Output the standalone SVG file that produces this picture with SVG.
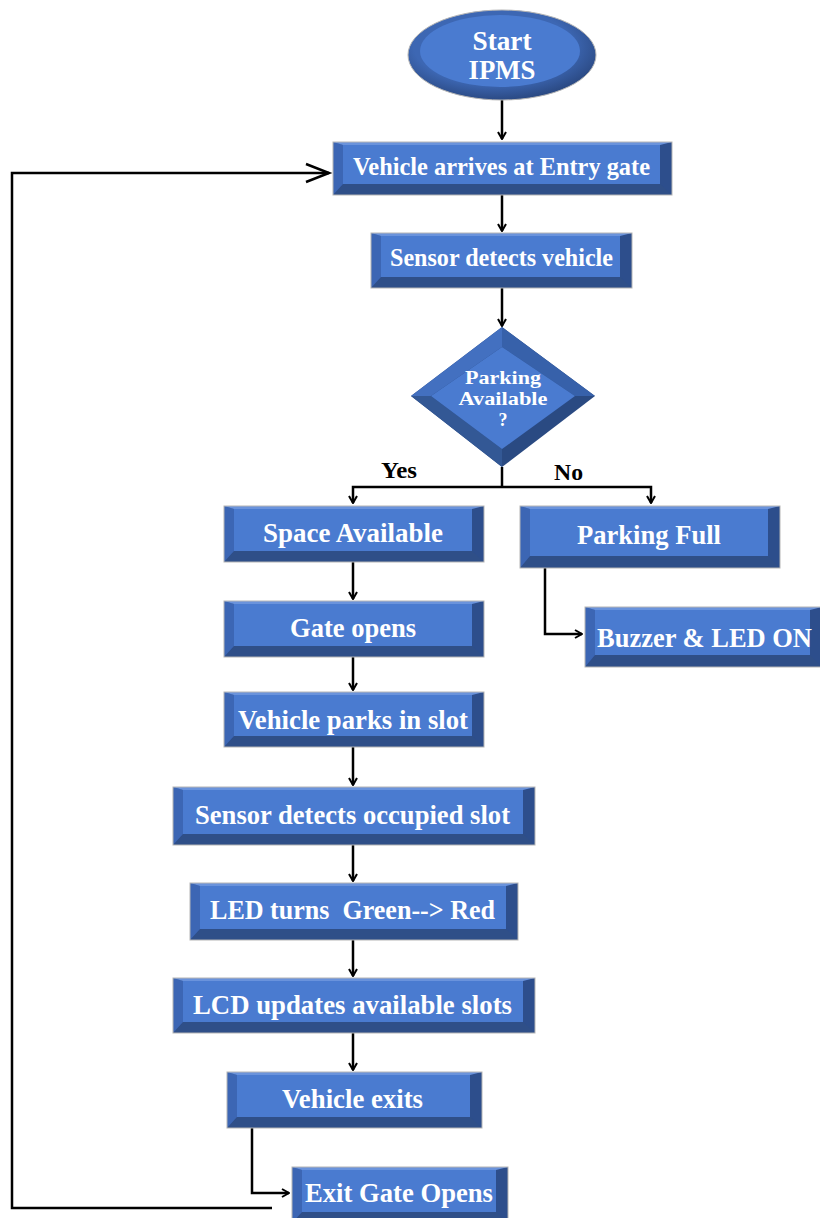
<svg xmlns="http://www.w3.org/2000/svg" width="820" height="1218" viewBox="0 0 820 1218">
<style>
.f{fill:#4A7BD0}.l{fill:#3C66B4}.r{fill:#2D4E8C}.b{fill:#2F4F88}.t{fill:#6A93DC}
.o{fill:none;stroke:#b5b5b5;stroke-width:1}
.n{font-family:"Liberation Serif","Times New Roman",serif;font-weight:bold;fill:#fff;text-anchor:middle}
.lbl{font-family:"Liberation Serif","Times New Roman",serif;font-weight:bold;fill:#000;font-size:24px}
.c{fill:none;stroke:#000;stroke-width:2.5}
</style>
<defs>
<marker id="ah" viewBox="0 0 10 10" refX="9" refY="5" markerWidth="10" markerHeight="10" markerUnits="userSpaceOnUse" orient="auto">
<path d="M2,1 L9,5 L2,9" fill="none" stroke="#000" stroke-width="2"/>
</marker>
<radialGradient id="eg" cx="0.45" cy="0.4" r="0.6">
<stop offset="0.7" stop-color="#3D67B3"/>
<stop offset="1" stop-color="#2B4A84"/>
</radialGradient>
</defs>

<g id="connectors">
<line class="c" x1="502" y1="100" x2="502" y2="139" marker-end="url(#ah)"/>
<line class="c" x1="502" y1="195" x2="502" y2="231" marker-end="url(#ah)"/>
<line class="c" x1="502" y1="288" x2="502" y2="326" marker-end="url(#ah)"/>
<polyline class="c" points="502,467 502,487"/>
<polyline class="c" points="502,487 353,487 353,503" marker-end="url(#ah)"/>
<polyline class="c" points="502,487 651,487 651,503" marker-end="url(#ah)"/>
<polyline class="c" points="545,568 545,634 582,634" marker-end="url(#ah)"/>
<line class="c" x1="353" y1="562" x2="353" y2="599" marker-end="url(#ah)"/>
<line class="c" x1="353" y1="657" x2="353" y2="690" marker-end="url(#ah)"/>
<line class="c" x1="353" y1="747" x2="353" y2="785" marker-end="url(#ah)"/>
<line class="c" x1="353" y1="845" x2="353" y2="881" marker-end="url(#ah)"/>
<line class="c" x1="353" y1="940" x2="353" y2="976" marker-end="url(#ah)"/>
<line class="c" x1="353" y1="1033" x2="353" y2="1070" marker-end="url(#ah)"/>
<polyline class="c" points="252,1128 252,1193 289,1193" marker-end="url(#ah)"/>
<polyline class="c" points="272,1208 12,1208 12,173 329,173"/>
<polyline class="c" points="306,164 329,173 306,182"/>
<text class="lbl" x="381" y="478" textLength="36" lengthAdjust="spacingAndGlyphs">Yes</text>
<text class="lbl" x="554" y="480" textLength="29" lengthAdjust="spacingAndGlyphs">No</text>
</g>

<g id="start">
<ellipse cx="502" cy="55" rx="94" ry="45" fill="url(#eg)" stroke="#b5b5b5" stroke-width="1"/>
<ellipse cx="500" cy="51" rx="80" ry="36" class="f"/>
<text class="n" x="502" y="50" font-size="28" textLength="59" lengthAdjust="spacingAndGlyphs">Start</text>
<text class="n" x="502" y="79" font-size="28" textLength="67" lengthAdjust="spacingAndGlyphs">IPMS</text>
</g>

<g id="n1">
<rect class="r" x="333" y="142" width="339" height="53"/>
<polygon class="b" points="333,195 343,184 660,184 672,195"/>
<polygon class="l" points="333,142 343,145 343,184 333,195"/>
<polygon class="t" points="333,142 672,142 660,145 343,145"/>
<rect class="f" x="343" y="145" width="317" height="39"/>
<rect class="o" x="333" y="142" width="339" height="53"/>
<text class="n" x="501.5" y="175" font-size="26" textLength="297" lengthAdjust="spacingAndGlyphs">Vehicle arrives at Entry gate</text>
</g>

<g id="n2">
<rect class="r" x="371" y="233" width="261" height="55"/>
<polygon class="b" points="371,288 381,277 620,277 632,288"/>
<polygon class="l" points="371,233 381,236 381,277 371,288"/>
<polygon class="t" points="371,233 632,233 620,236 381,236"/>
<rect class="f" x="381" y="236" width="239" height="41"/>
<rect class="o" x="371" y="233" width="261" height="55"/>
<text class="n" x="501.5" y="266" font-size="25" textLength="223" lengthAdjust="spacingAndGlyphs">Sensor detects vehicle</text>
</g>

<g id="decision">
<polygon points="502,327 595,396 502,467 411,396" fill="#2A4A82"/>
<polygon points="411,396 502,327 502,347 431,396" fill="#4370C0"/>
<polygon points="502,327 595,396 575,396 502,347" fill="#3761AA"/>
<polygon points="411,396 431,396 502,449 502,467" fill="#335895"/>
<polygon points="502,347 575,396 502,449 431,396" class="f"/>
<text class="n" x="503" y="384" font-size="18" textLength="76" lengthAdjust="spacingAndGlyphs">Parking</text>
<text class="n" x="503" y="405" font-size="18" textLength="89" lengthAdjust="spacingAndGlyphs">Available</text>
<text class="n" x="503" y="426" font-size="18">?</text>
</g>

<g id="n3">
<rect class="r" x="224" y="506" width="260" height="56"/>
<polygon class="b" points="224,562 234,551 472,551 484,562"/>
<polygon class="l" points="224,506 234,509 234,551 224,562"/>
<polygon class="t" points="224,506 484,506 472,509 234,509"/>
<rect class="f" x="234" y="509" width="238" height="42"/>
<rect class="o" x="224" y="506" width="260" height="56"/>
<text class="n" x="353" y="542" font-size="27" textLength="180" lengthAdjust="spacingAndGlyphs">Space Available</text>
</g>

<g id="n4">
<rect class="r" x="520" y="506" width="260" height="62"/>
<polygon class="b" points="520,568 530,556 768,556 780,568"/>
<polygon class="l" points="520,506 530,509 530,556 520,568"/>
<polygon class="t" points="520,506 780,506 768,509 530,509"/>
<rect class="f" x="530" y="509" width="238" height="47"/>
<rect class="o" x="520" y="506" width="260" height="62"/>
<text class="n" x="649" y="544" font-size="27" textLength="144" lengthAdjust="spacingAndGlyphs">Parking Full</text>
</g>

<g id="n5">
<rect class="r" x="585" y="607" width="237" height="60"/>
<polygon class="b" points="585,667 595,655 810,655 822,667"/>
<polygon class="l" points="585,607 595,610 595,655 585,667"/>
<polygon class="t" points="585,607 822,607 810,610 595,610"/>
<rect class="f" x="595" y="610" width="215" height="45"/>
<rect class="o" x="585" y="607" width="237" height="60"/>
<text class="n" x="704.5" y="647" font-size="27" textLength="215" lengthAdjust="spacingAndGlyphs">Buzzer &amp; LED ON</text>
</g>

<g id="n6">
<rect class="r" x="224" y="601" width="260" height="56"/>
<polygon class="b" points="224,657 234,646 472,646 484,657"/>
<polygon class="l" points="224,601 234,604 234,646 224,657"/>
<polygon class="t" points="224,601 484,601 472,604 234,604"/>
<rect class="f" x="234" y="604" width="238" height="42"/>
<rect class="o" x="224" y="601" width="260" height="56"/>
<text class="n" x="353" y="637" font-size="27" textLength="126" lengthAdjust="spacingAndGlyphs">Gate opens</text>
</g>

<g id="n7">
<rect class="r" x="224" y="692" width="260" height="55"/>
<polygon class="b" points="224,747 234,736 472,736 484,747"/>
<polygon class="l" points="224,692 234,695 234,736 224,747"/>
<polygon class="t" points="224,692 484,692 472,695 234,695"/>
<rect class="f" x="234" y="695" width="238" height="41"/>
<rect class="o" x="224" y="692" width="260" height="55"/>
<text class="n" x="353" y="729" font-size="27" textLength="230" lengthAdjust="spacingAndGlyphs">Vehicle parks in slot</text>
</g>

<g id="n8">
<rect class="r" x="173" y="787" width="362" height="58"/>
<polygon class="b" points="173,845 183,834 523,834 535,845"/>
<polygon class="l" points="173,787 183,790 183,834 173,845"/>
<polygon class="t" points="173,787 535,787 523,790 183,790"/>
<rect class="f" x="183" y="790" width="340" height="44"/>
<rect class="o" x="173" y="787" width="362" height="58"/>
<text class="n" x="352.5" y="824" font-size="27" textLength="315" lengthAdjust="spacingAndGlyphs">Sensor detects occupied slot</text>
</g>

<g id="n9">
<rect class="r" x="190" y="883" width="328" height="57"/>
<polygon class="b" points="190,940 200,929 506,929 518,940"/>
<polygon class="l" points="190,883 200,886 200,929 190,940"/>
<polygon class="t" points="190,883 518,883 506,886 200,886"/>
<rect class="f" x="200" y="886" width="306" height="43"/>
<rect class="o" x="190" y="883" width="328" height="57"/>
<text class="n" x="352.5" y="919" font-size="27" textLength="285" lengthAdjust="spacingAndGlyphs">LED turns &#160;Green--&gt; Red</text>
</g>

<g id="n10">
<rect class="r" x="173" y="978" width="362" height="55"/>
<polygon class="b" points="173,1033 183,1022 523,1022 535,1033"/>
<polygon class="l" points="173,978 183,981 183,1022 173,1033"/>
<polygon class="t" points="173,978 535,978 523,981 183,981"/>
<rect class="f" x="183" y="981" width="340" height="41"/>
<rect class="o" x="173" y="978" width="362" height="55"/>
<text class="n" x="352.5" y="1014" font-size="27" textLength="319" lengthAdjust="spacingAndGlyphs">LCD updates available slots</text>
</g>

<g id="n11">
<rect class="r" x="227" y="1072" width="255" height="56"/>
<polygon class="b" points="227,1128 237,1117 470,1117 482,1128"/>
<polygon class="l" points="227,1072 237,1075 237,1117 227,1128"/>
<polygon class="t" points="227,1072 482,1072 470,1075 237,1075"/>
<rect class="f" x="237" y="1075" width="233" height="42"/>
<rect class="o" x="227" y="1072" width="255" height="56"/>
<text class="n" x="352.5" y="1108" font-size="27" textLength="141" lengthAdjust="spacingAndGlyphs">Vehicle exits</text>
</g>

<g id="n12">
<rect class="r" x="292" y="1167" width="216" height="56"/>
<polygon class="b" points="292,1223 302,1212 496,1212 508,1223"/>
<polygon class="l" points="292,1167 302,1170 302,1212 292,1223"/>
<polygon class="t" points="292,1167 508,1167 496,1170 302,1170"/>
<rect class="f" x="302" y="1170" width="194" height="42"/>
<rect class="o" x="292" y="1167" width="216" height="56"/>
<text class="n" x="399" y="1202" font-size="27" textLength="188" lengthAdjust="spacingAndGlyphs">Exit Gate Opens</text>
</g>
</svg>
